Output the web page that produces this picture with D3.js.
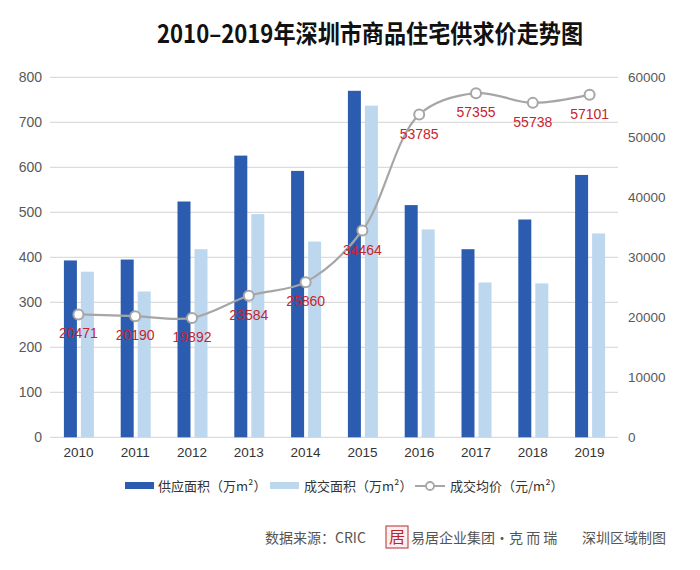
<!DOCTYPE html>
<html>
<head>
<meta charset="utf-8">
<script src="https://cdn.jsdelivr.net/npm/d3@7"></script>
<style>
  html, body { margin: 0; padding: 0; background: #fff; }
  svg { display: block; font-family: "Liberation Sans", "Noto Sans CJK SC", sans-serif; }
</style>
</head>
<body>
<svg id="chart" width="700" height="570"></svg>
<script>
const years = ["2010","2011","2012","2013","2014","2015","2016","2017","2018","2019"];
const supply = [393, 395, 524, 626, 592, 770, 516, 418, 484, 583];
const deals  = [368, 324, 418, 496, 435, 737, 462, 344, 342, 453];
const price  = [20471, 20190, 19892, 23584, 25860, 34464, 53785, 57355, 55738, 57101];
const leftTicks = [0, 100, 200, 300, 400, 500, 600, 700, 800];
const rightTicks = [0, 10000, 20000, 30000, 40000, 50000, 60000];
const legendLabels = ["供应面积（万m²）", "成交面积（万m²）", "成交均价（元/m²）"];

const svg = d3.select("#chart");
const cjk = '"Noto Sans CJK SC", sans-serif';
const pLeft = 50, pRight = 618, pTop = 77.3, pBottom = 437.3;

const x = d3.scaleBand().domain(years).range([pLeft, pRight]).padding(0);
const yL = d3.scaleLinear().domain([0, 800]).range([pBottom, pTop]);
const yR = d3.scaleLinear().domain([0, 60000]).range([pBottom, pTop]);
const cx = d => x(d) + x.bandwidth() / 2;

// title
svg.append("text").attr("x", 370).attr("y", 43).attr("text-anchor", "middle")
  .attr("font-family", cjk).attr("font-weight", "bold").attr("font-size", 25)
  .attr("fill", "#111").attr("textLength", 426).attr("lengthAdjust", "spacingAndGlyphs")
  .text("2010–2019年深圳市商品住宅供求价走势图");

// gridlines
svg.append("g").selectAll("line").data(leftTicks).join("line")
  .attr("x1", pLeft).attr("x2", pRight)
  .attr("y1", d => yL(d)).attr("y2", d => yL(d))
  .attr("stroke", "#dcdcdc").attr("stroke-width", 1.2);

// left axis
const axL = d3.axisLeft(yL).tickValues(leftTicks).tickSize(0).tickPadding(8);
const gL = svg.append("g").attr("transform", `translate(${pLeft},0)`).call(axL);
gL.select(".domain").remove();
gL.selectAll("text").attr("font-size", 14).attr("fill", "#595959")
  .attr("font-family", '"Liberation Sans", sans-serif');

// right axis
const axR = d3.axisRight(yR).tickValues(rightTicks).tickSize(0).tickPadding(10).tickFormat(d3.format("d"));
const gR = svg.append("g").attr("transform", `translate(${pRight},0)`).call(axR);
gR.select(".domain").remove();
gR.selectAll("text").attr("font-size", 13.5).attr("fill", "#595959")
  .attr("font-family", '"Liberation Sans", sans-serif');

// x axis labels
const axX = d3.axisBottom(x).tickSize(0).tickPadding(10);
const gX = svg.append("g").attr("transform", `translate(0,${pBottom})`).call(axX);
gX.select(".domain").remove();
gX.selectAll("text").attr("font-size", 13.5).attr("fill", "#333")
  .attr("font-family", '"Liberation Sans", sans-serif');

// bars
const bw = 13;
svg.append("g").selectAll("rect").data(years).join("rect")
  .attr("x", (d) => cx(d) - 14.5).attr("width", bw)
  .attr("y", (d, i) => yL(supply[i])).attr("height", (d, i) => pBottom - yL(supply[i]))
  .attr("fill", "#2c5cb0");
svg.append("g").selectAll("rect").data(years).join("rect")
  .attr("x", (d) => cx(d) + 2.5).attr("width", bw)
  .attr("y", (d, i) => yL(deals[i])).attr("height", (d, i) => pBottom - yL(deals[i]))
  .attr("fill", "#bdd7ee");

// line
const line = d3.line().x((d, i) => cx(years[i])).y(d => yR(d)).curve(d3.curveCatmullRom.alpha(0.5));
svg.append("path").datum(price).attr("d", line)
  .attr("fill", "none").attr("stroke", "#a6a6a6").attr("stroke-width", 2.2);
svg.append("g").selectAll("circle").data(price).join("circle")
  .attr("cx", (d, i) => cx(years[i])).attr("cy", d => yR(d)).attr("r", 5)
  .attr("fill", "#fff").attr("stroke", "#a6a6a6").attr("stroke-width", 2);

// data labels
svg.append("g").selectAll("text").data(price).join("text")
  .attr("x", (d, i) => cx(years[i])).attr("y", d => yR(d) + 24)
  .attr("text-anchor", "middle").attr("font-size", 14).attr("fill", "#c8232c")
  .attr("font-family", '"Liberation Sans", sans-serif')
  .text(d => d);

// legend
const ly = 486;
const lg = svg.append("g");
lg.append("rect").attr("x", 125).attr("y", ly - 4).attr("width", 29).attr("height", 7).attr("fill", "#2c5cb0");
lg.append("text").attr("x", 158).attr("y", ly + 5).attr("font-size", 13).attr("fill", "#333")
  .attr("font-family", cjk).text(legendLabels[0]);
lg.append("rect").attr("x", 270).attr("y", ly - 4).attr("width", 29).attr("height", 7).attr("fill", "#bdd7ee");
lg.append("text").attr("x", 304).attr("y", ly + 5).attr("font-size", 13).attr("fill", "#333")
  .attr("font-family", cjk).text(legendLabels[1]);
lg.append("line").attr("x1", 415).attr("x2", 445).attr("y1", ly).attr("y2", ly)
  .attr("stroke", "#a6a6a6").attr("stroke-width", 2);
lg.append("circle").attr("cx", 430).attr("cy", ly).attr("r", 4)
  .attr("fill", "#fff").attr("stroke", "#a6a6a6").attr("stroke-width", 1.8);
lg.append("text").attr("x", 450).attr("y", ly + 5).attr("font-size", 13).attr("fill", "#333")
  .attr("font-family", cjk).text(legendLabels[2]);

// footer
const fy = 543;
const ft = svg.append("g").attr("font-family", cjk).attr("font-size", 14).attr("fill", "#555");
ft.append("text").attr("x", 265).attr("y", fy).text("数据来源：CRIC");
ft.append("rect").attr("x", 386).attr("y", 526).attr("width", 22).attr("height", 22)
  .attr("fill", "#fbeeee").attr("stroke", "#c0504d").attr("stroke-width", 1.2);
ft.append("text").attr("x", 397).attr("y", 543).attr("text-anchor", "middle")
  .attr("font-size", 16).attr("fill", "#b8252d").text("居");
ft.append("text").attr("x", 411).attr("y", fy).text("易居企业集团·克 而 瑞");
ft.append("text").attr("x", 582).attr("y", fy).text("深圳区域制图");
</script>
</body>
</html>
